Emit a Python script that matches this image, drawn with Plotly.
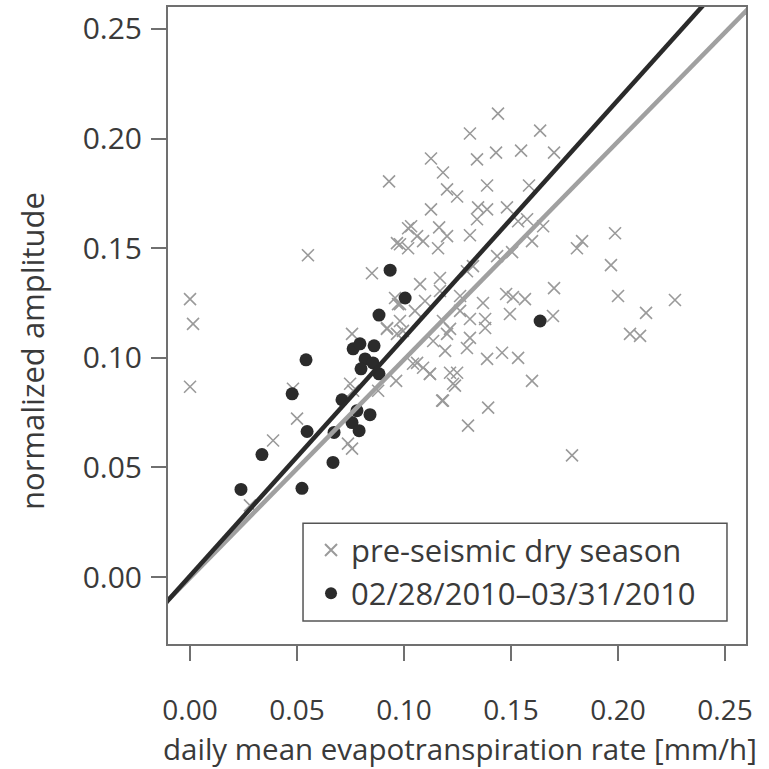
import plotly.graph_objects as go

# pre-seismic dry season: daily mean ET rate [mm/h] vs normalized amplitude
dry_et = [
    0.1439, 0.1308, 0.1636, 0.1126, 0.1341, 0.1430, 0.1547, 0.1701, 0.1182, 0.1388,
    0.1584, 0.1201, 0.1248, 0.1126, 0.1346, 0.1388, 0.1481, 0.1033, 0.1164, 0.1061,
    0.1089, 0.1201, 0.1308, 0.1341, 0.1533, 0.1575, 0.1650, 0.1159, 0.0981, 0.1435,
    0.1505, 0.1598, 0.1808, 0.1832, 0.1986, 0.1967, 0.1294, 0.1322, 0.1168, 0.1701,
    0.1477, 0.1509, 0.1565, 0.2000, 0.2266, 0.1369, 0.1495, 0.1696, 0.2131, 0.1379,
    0.1262, 0.2056, 0.2103, 0.1379, 0.1201, 0.1308, 0.1294, 0.1458, 0.1533, 0.1388,
    0.1061, 0.1121, 0.1248, 0.1598, 0.1238, 0.1178, 0.1393, 0.1299, 0.1785, 0.0930,
    0.0551, 0.0967, 0.1019, 0.1019, 0.0850, 0.0958, 0.0972, 0.0000, 0.0014, 0.0921,
    0.0000, 0.0757, 0.0920, 0.0967, 0.0995, 0.1136, 0.1182, 0.1215, 0.1042, 0.1089,
    0.1121, 0.1215, 0.1229, 0.1182, 0.0963, 0.0879, 0.0748, 0.0762, 0.0481, 0.0500,
    0.0388, 0.0738, 0.0757, 0.0280, 0.0981, 0.1075, 0.1098, 0.1051, 0.1168, 0.1262,
    0.1308, 0.1192, 0.0981,
]
dry_amp = [
    0.2114, 0.2023, 0.2036, 0.1909, 0.1905, 0.1936, 0.1945, 0.1936, 0.1845, 0.1786,
    0.1786, 0.1768, 0.1736, 0.1677, 0.1686, 0.1677, 0.1686, 0.1600, 0.1595, 0.1555,
    0.1532, 0.1555, 0.1559, 0.1632, 0.1623, 0.1632, 0.1600, 0.1500, 0.1518, 0.1464,
    0.1482, 0.1532, 0.1500, 0.1532, 0.1568, 0.1423, 0.1395, 0.1418, 0.1364, 0.1318,
    0.1291, 0.1277, 0.1268, 0.1282, 0.1264, 0.1250, 0.1200, 0.1191, 0.1205, 0.1177,
    0.1214, 0.1109, 0.1100, 0.1136, 0.1109, 0.1091, 0.1045, 0.1023, 0.1000, 0.0995,
    0.0977, 0.0927, 0.0932, 0.0895, 0.0873, 0.0805, 0.0773, 0.0691, 0.0555, 0.1805,
    0.1468, 0.1523, 0.1591, 0.1500, 0.1386, 0.1273, 0.1245, 0.1268, 0.1155, 0.1136,
    0.0868, 0.1109, 0.1132, 0.1109, 0.1123, 0.1077, 0.1168, 0.1132, 0.0973, 0.0955,
    0.0927, 0.0932, 0.0882, 0.0805, 0.0895, 0.0850, 0.0882, 0.0850, 0.0859, 0.0723,
    0.0623, 0.0609, 0.0586, 0.0327, 0.1245, 0.1336, 0.1259, 0.1214, 0.1305, 0.1282,
    0.1177, 0.1032, 0.1168,
]

# 02/28/2010-03/31/2010
post_et = [
    0.0883, 0.0762, 0.0794, 0.0860, 0.0818, 0.0855, 0.0799, 0.0883, 0.0542, 0.0477,
    0.0710, 0.0780, 0.0841, 0.0757, 0.0790, 0.0547, 0.0673, 0.0336, 0.0668, 0.0238,
    0.0523, 0.0935, 0.1005, 0.1636,
]
post_amp = [
    0.1195, 0.1041, 0.1064, 0.1055, 0.0995, 0.0977, 0.0950, 0.0927, 0.0991, 0.0836,
    0.0809, 0.0759, 0.0741, 0.0705, 0.0668, 0.0664, 0.0660, 0.0559, 0.0523, 0.0400,
    0.0405, 0.1400, 0.1273, 0.1168,
]

# linear fits (slope, intercept)
dry_fit = (0.995, -0.0003)
post_fit = (1.085, 0.0006)

x_range = [-0.0103, 0.2598]
y_range = [-0.0305, 0.2600]
ticks = [0.00, 0.05, 0.10, 0.15, 0.20, 0.25]
tick_text = ["0.00", "0.05", "0.10", "0.15", "0.20", "0.25"]

FONT = "Open Sans"
TEXT = "#3a3a3a"
FRAME = "#707070"

fig = go.Figure()

fig.add_trace(go.Scatter(
    x=dry_et, y=dry_amp, mode="markers", name="pre-seismic dry season",
    marker=dict(symbol="x-thin", size=12, color="#9a9a9a",
                line=dict(color="#9a9a9a", width=1.6)),
))
fig.add_trace(go.Scatter(
    x=post_et, y=post_amp, mode="markers", name="02/28/2010\u201303/31/2010",
    marker=dict(symbol="circle", size=13, color="#2b2b2b", line=dict(width=0)),
))

line_x = [x_range[0] - 0.02, x_range[1] + 0.02]
fig.add_trace(go.Scatter(
    x=line_x, y=[dry_fit[0] * v + dry_fit[1] for v in line_x],
    mode="lines", line=dict(color="#a0a0a0", width=4.5), showlegend=False,
))
fig.add_trace(go.Scatter(
    x=line_x, y=[post_fit[0] * v + post_fit[1] for v in line_x],
    mode="lines", line=dict(color="#2a2a2a", width=4.5), showlegend=False,
))

axis_common = dict(
    showgrid=False, zeroline=False, showline=True, mirror=True,
    linecolor=FRAME, linewidth=2, ticks="outside", ticklen=15,
    tickwidth=2, tickcolor=FRAME, tickvals=ticks, ticktext=tick_text,
)

fig.update_xaxes(range=x_range, ticklabelstandoff=25,
                 tickfont=dict(family=FONT, size=28, color=TEXT), **axis_common)
fig.update_yaxes(range=y_range, ticklabelstandoff=3,
                 tickfont=dict(family=FONT, size=30, color=TEXT), **axis_common)

# axis titles
fig.add_annotation(
    text="daily mean evapotranspiration rate [mm/h]", showarrow=False,
    xref="paper", yref="paper", x=0.505, y=-0.1645,
    xanchor="center", yanchor="middle",
    font=dict(family=FONT, size=29.5, color=TEXT),
)
fig.add_annotation(
    text="normalized amplitude", textangle=-90, showarrow=False,
    xref="paper", yref="paper", x=-0.2353, y=0.46,
    xanchor="center", yanchor="middle",
    font=dict(family=FONT, size=31, color=TEXT),
)

# legend frame
fig.add_shape(type="rect", xref="paper", yref="paper",
              x0=0.2336, x1=0.9671, y0=0.036, y1=0.1894,
              line=dict(color="#555555", width=1.5), fillcolor="white", layer="above")

fig.update_layout(
    width=769, height=769,
    margin=dict(l=168, r=23, t=5, b=125),
    paper_bgcolor="white", plot_bgcolor="white",
    font=dict(family=FONT, color=TEXT),
    legend=dict(x=0.2336, y=0.1894, xanchor="left", yanchor="top",
                borderwidth=0, bgcolor="rgba(0,0,0,0)",
                font=dict(family=FONT, size=31, color=TEXT),
                itemsizing="constant", tracegroupgap=0, indentation=8),
)

fig.write_html("out.html")
